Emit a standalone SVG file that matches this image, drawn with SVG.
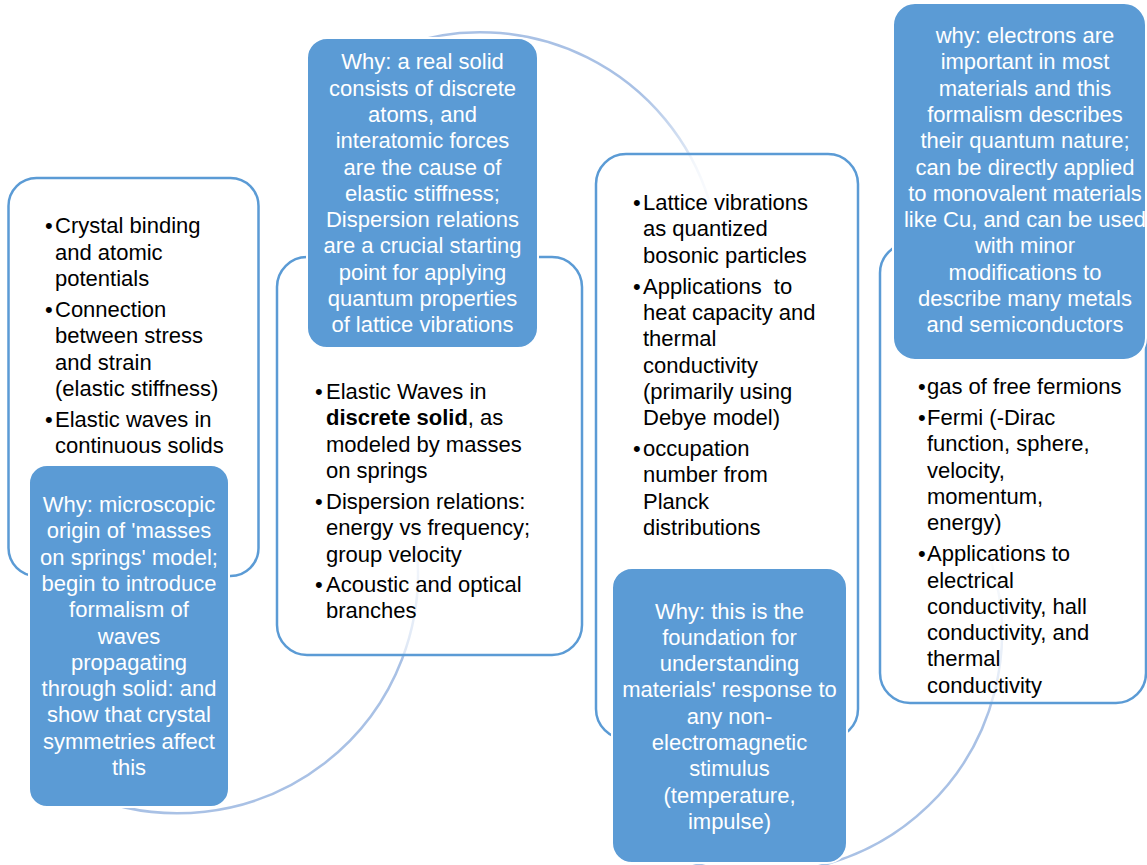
<svg xmlns="http://www.w3.org/2000/svg" width="1147" height="865" viewBox="0 0 1147 865">
<style>
text{font-family:"Liberation Sans",Arial,sans-serif;font-size:22px}
.wbox{fill:#ffffff;fill-opacity:0.6;stroke:#5b9bd5;stroke-width:2.5}
.bbox{fill:#5b9bd5;stroke:#ffffff;stroke-width:2}
.bt{fill:#000000}
.wt{fill:#ffffff;text-anchor:middle}
.arc{fill:none;stroke-width:2.5}
</style>
<defs>
<linearGradient id="g1" gradientUnits="userSpaceOnUse" x1="0" y1="660" x2="0" y2="520">
<stop offset="0" stop-color="#a9c1e5" stop-opacity="1"/>
<stop offset="1" stop-color="#a9c1e5" stop-opacity="0.1"/>
</linearGradient>
<linearGradient id="g2" gradientUnits="userSpaceOnUse" x1="640" y1="0" x2="710" y2="0">
<stop offset="0" stop-color="#a9c1e5" stop-opacity="1"/>
<stop offset="1" stop-color="#a9c1e5" stop-opacity="0.15"/>
</linearGradient>
<linearGradient id="g3" gradientUnits="userSpaceOnUse" x1="0" y1="720" x2="0" y2="560">
<stop offset="0" stop-color="#a9c1e5" stop-opacity="1"/>
<stop offset="1" stop-color="#a9c1e5" stop-opacity="0.15"/>
</linearGradient>
</defs>
<rect width="1147" height="865" fill="#ffffff"/>
<g id="connectors">
<path class="arc" stroke="url(#g1)" d="M77,791 A240,240 0 0 0 414,530"/>
<path class="arc" stroke="url(#g2)" d="M400,46 A240,240 0 0 1 709,200"/>
<path class="arc" stroke="url(#g3)" d="M680,858.5 A240,240 0 0 0 990.6,560"/>
</g>
<g id="box1">
<rect class="wbox" x="8.5" y="178" width="250" height="398" rx="28"/>
<g class="bt">
<text x="45" y="233">•</text><text x="55" y="233">Crystal binding</text>
<text x="55" y="259.5">and atomic</text>
<text x="55" y="286">potentials</text>
<text x="45" y="317">•</text><text x="55" y="317">Connection</text>
<text x="55" y="343">between stress</text>
<text x="55" y="369.5">and strain</text>
<text x="55" y="396">(elastic stiffness)</text>
<text x="45" y="427">•</text><text x="55" y="427">Elastic waves in</text>
<text x="55" y="453">continuous solids</text>
</g>
</g>
<g id="box2">
<rect class="wbox" x="277" y="257" width="305" height="398" rx="30"/>
<g class="bt">
<text x="315" y="399">•</text><text x="326" y="399">Elastic Waves in</text>
<text x="326" y="425.3"><tspan font-weight="bold">discrete solid</tspan>, as</text>
<text x="326" y="451.6">modeled by masses</text>
<text x="326" y="477.9">on springs</text>
<text x="315" y="508.9">•</text><text x="326" y="508.9">Dispersion relations:</text>
<text x="326" y="535.2">energy vs frequency;</text>
<text x="326" y="561.5">group velocity</text>
<text x="315" y="592">•</text><text x="326" y="592">Acoustic and optical</text>
<text x="326" y="618.3">branches</text>
</g>
</g>
<g id="box3">
<rect class="wbox" x="596" y="154" width="262" height="585" rx="30"/>
<g class="bt">
<text x="633" y="210">•</text><text x="643" y="210">Lattice vibrations</text>
<text x="643" y="236.3">as quantized</text>
<text x="643" y="262.6">bosonic particles</text>
<text x="633" y="293.6">•</text><text x="643" y="293.6" xml:space="preserve">Applications  to</text>
<text x="643" y="319.9">heat capacity and</text>
<text x="643" y="346.2">thermal</text>
<text x="643" y="372.5">conductivity</text>
<text x="643" y="398.8">(primarily using</text>
<text x="643" y="425.1">Debye model)</text>
<text x="633" y="456.1">•</text><text x="643" y="456.1">occupation</text>
<text x="643" y="482.4">number from</text>
<text x="643" y="508.7">Planck</text>
<text x="643" y="535">distributions</text>
</g>
</g>
<g id="box4">
<rect class="wbox" x="880" y="243" width="266" height="460" rx="30"/>
<g class="bt">
<text x="918" y="394">•</text><text x="927" y="394">gas of free fermions</text>
<text x="918" y="425">•</text><text x="927" y="425">Fermi (-Dirac</text>
<text x="927" y="451.3">function, sphere,</text>
<text x="927" y="477.6">velocity,</text>
<text x="927" y="503.9">momentum,</text>
<text x="927" y="530.2">energy)</text>
<text x="918" y="561.2">•</text><text x="927" y="561.2">Applications to</text>
<text x="927" y="587.5">electrical</text>
<text x="927" y="613.8">conductivity, hall</text>
<text x="927" y="640.1">conductivity, and</text>
<text x="927" y="666.4">thermal</text>
<text x="927" y="692.7">conductivity</text>
</g>
</g>
<g id="why1">
<rect class="bbox" x="29" y="465" width="200" height="342" rx="18"/>
<g class="wt">
<text x="129" y="512">Why: microscopic</text>
<text x="129" y="538.3">origin of 'masses</text>
<text x="129" y="564.6">on springs' model;</text>
<text x="129" y="590.9">begin to introduce</text>
<text x="129" y="617.2">formalism of</text>
<text x="129" y="643.5">waves</text>
<text x="129" y="669.8">propagating</text>
<text x="129" y="696.1">through solid: and</text>
<text x="129" y="722.4">show that crystal</text>
<text x="129" y="748.7">symmetries affect</text>
<text x="129" y="775">this</text>
</g>
</g>
<g id="why2">
<rect class="bbox" x="307" y="38" width="231" height="310" rx="20"/>
<g class="wt">
<text x="422.5" y="69.3">Why: a real solid</text>
<text x="422.5" y="95.6">consists of discrete</text>
<text x="422.5" y="121.9">atoms, and</text>
<text x="422.5" y="148.2">interatomic forces</text>
<text x="422.5" y="174.5">are the cause of</text>
<text x="422.5" y="200.8">elastic stiffness;</text>
<text x="422.5" y="227.1">Dispersion relations</text>
<text x="422.5" y="253.4">are a crucial starting</text>
<text x="422.5" y="279.7">point for applying</text>
<text x="422.5" y="306">quantum properties</text>
<text x="422.5" y="332.3">of lattice vibrations</text>
</g>
</g>
<g id="why3">
<rect class="bbox" x="612" y="568" width="235" height="295" rx="20"/>
<g class="wt">
<text x="729.5" y="618.5">Why: this is the</text>
<text x="729.5" y="644.8">foundation for</text>
<text x="729.5" y="671.1">understanding</text>
<text x="729.5" y="697.4">materials' response to</text>
<text x="729.5" y="723.7">any non-</text>
<text x="729.5" y="750">electromagnetic</text>
<text x="729.5" y="776.3">stimulus</text>
<text x="729.5" y="802.6">(temperature,</text>
<text x="729.5" y="828.9">impulse)</text>
</g>
</g>
<g id="why4">
<rect class="bbox" x="893" y="3" width="253" height="357" rx="22"/>
<g class="wt">
<text x="1025" y="43">why: electrons are</text>
<text x="1025" y="69.3">important in most</text>
<text x="1025" y="95.6">materials and this</text>
<text x="1025" y="121.9">formalism describes</text>
<text x="1025" y="148.2">their quantum nature;</text>
<text x="1025" y="174.5">can be directly applied</text>
<text x="1025" y="200.8">to monovalent materials</text>
<text x="1025" y="227.1">like Cu, and can be used</text>
<text x="1025" y="253.4">with minor</text>
<text x="1025" y="279.7">modifications to</text>
<text x="1025" y="306">describe many metals</text>
<text x="1025" y="332.3">and semiconductors</text>
</g>
</g>
</svg>
